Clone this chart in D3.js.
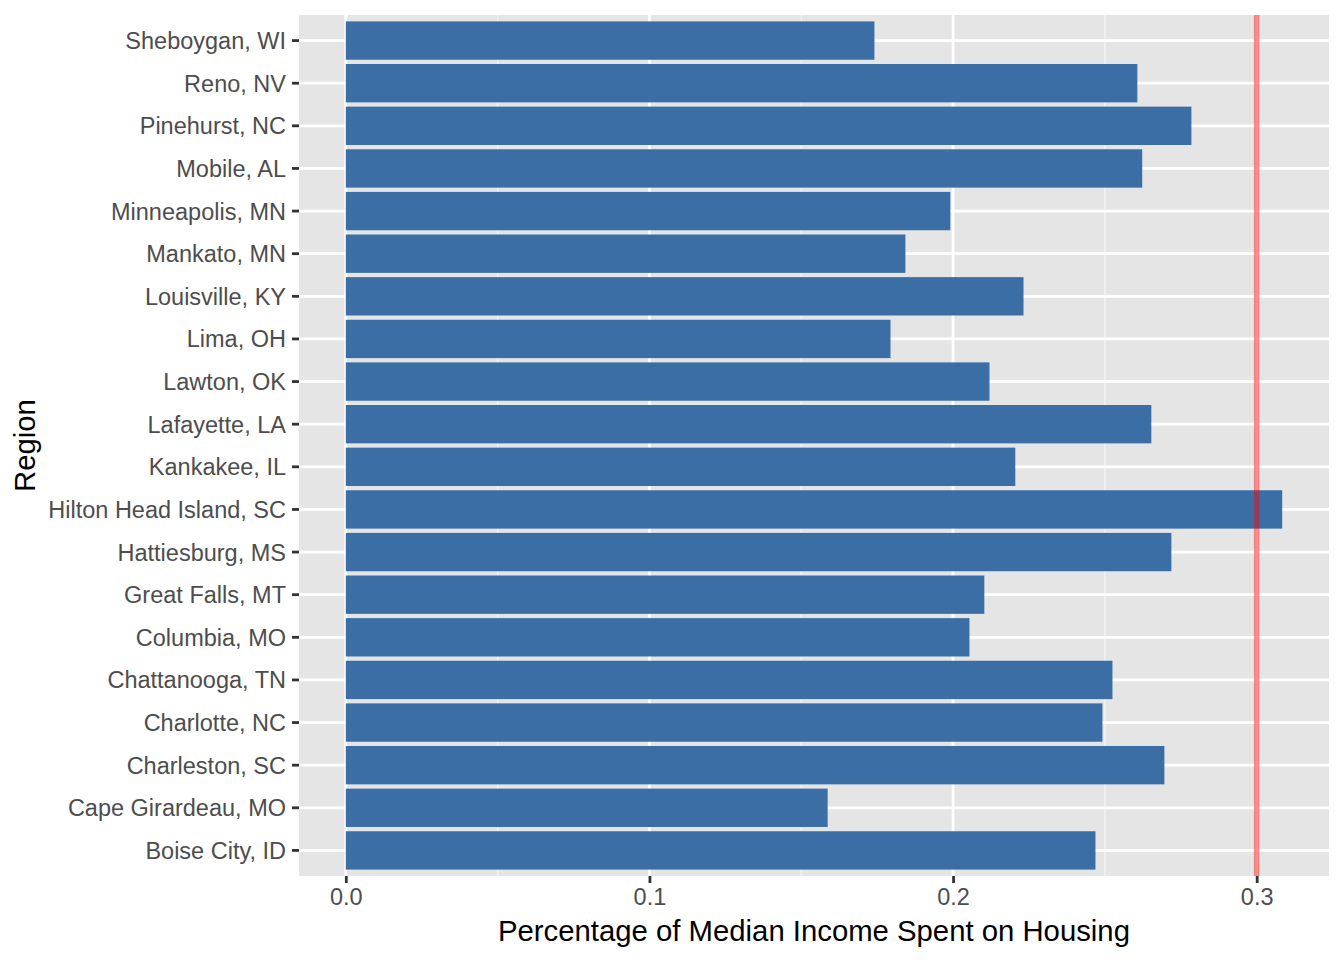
<!DOCTYPE html>
<html>
<head>
<meta charset="utf-8">
<script src="https://cdn.jsdelivr.net/npm/d3@7"></script>
<style>
  body { margin: 0; background: #fff; }
  text { font-family: "Liberation Sans", Arial, sans-serif; }
</style>
</head>
<body>
<svg id="chart"></svg>
<script>
// regions, bottom to top as drawn
const regions = ["Boise City, ID", "Cape Girardeau, MO", "Charleston, SC", "Charlotte, NC",
    "Chattanooga, TN", "Columbia, MO", "Great Falls, MT", "Hattiesburg, MS",
    "Hilton Head Island, SC", "Kankakee, IL", "Lafayette, LA", "Lawton, OK",
    "Lima, OH", "Louisville, KY", "Mankato, MN", "Minneapolis, MN",
    "Mobile, AL", "Pinehurst, NC", "Reno, NV", "Sheboygan, WI"];
const shares = [0.2469, 0.1587, 0.2696, 0.2492,
    0.2525, 0.2054, 0.2103, 0.2719,
    0.3084, 0.2205, 0.2653, 0.2120,
    0.1794, 0.2232, 0.1843, 0.1991,
    0.2623, 0.2785, 0.2607, 0.1741];
const threshold = 0.3;
const xTicks = [0, 0.1, 0.2, 0.3];
const xMinor = [0.05, 0.15, 0.25];

const W = 1344, H = 960;
const margin = { top: 15, right: 15, bottom: 84, left: 299 };
const width = W - margin.left - margin.right;
const height = H - margin.top - margin.bottom;

const svg = d3.select("#chart").attr("width", W).attr("height", H);
const g = svg.append("g")
    .attr("transform", "translate(" + margin.left + "," + margin.top + ")");

// continuous x with ggplot-like 5% expansion
let xMax = Math.max(d3.max(shares), threshold);
let pad = xMax * 0.05;
const x = d3.scaleLinear().domain([0 - pad, xMax + pad]).range([0, width]);

// discrete y: 0.6 expansion each side, bars 0.9 wide
const n = regions.length;
const unit = height / (n - 1 + 1.2);
const yPos = d => height - (0.6 + regions.indexOf(d)) * unit;

g.append("rect").attr("width", width).attr("height", height).attr("fill", "#e5e5e5");

// minor grid
g.selectAll(".minor").data(xMinor).enter().append("line")
    .attr("x1", d => x(d)).attr("x2", d => x(d))
    .attr("y1", 0).attr("y2", height)
    .attr("stroke", "#f2f2f2").attr("stroke-width", 1.4);

// major grid
g.selectAll(".vmajor").data(xTicks).enter().append("line")
    .attr("x1", d => x(d)).attr("x2", d => x(d))
    .attr("y1", 0).attr("y2", height)
    .attr("stroke", "#fff").attr("stroke-width", 2.8);
g.selectAll(".hmajor").data(regions).enter().append("line")
    .attr("x1", 0).attr("x2", width)
    .attr("y1", d => yPos(d)).attr("y2", d => yPos(d))
    .attr("stroke", "#fff").attr("stroke-width", 2.8);

// bars
g.selectAll(".bar").data(regions).enter().append("rect")
    .attr("x", x(0))
    .attr("y", d => yPos(d) - 0.45 * unit)
    .attr("height", 0.9 * unit)
    .attr("width", (d, i) => x(shares[i]) - x(0))
    .attr("fill", "#3a6ea5");

// threshold line
g.append("line")
    .attr("x1", x(threshold)).attr("x2", x(threshold))
    .attr("y1", 0).attr("y2", height)
    .attr("stroke", "red").attr("stroke-opacity", 0.45).attr("stroke-width", 5.5);

// x axis
const xAxis = g.append("g")
    .attr("transform", "translate(0," + height + ")")
    .call(d3.axisBottom(x).tickValues(xTicks).tickFormat(d3.format(".1f")).tickSizeOuter(0).tickSize(7).tickPadding(5));
xAxis.select(".domain").remove();
xAxis.selectAll(".tick line").attr("stroke", "#333").attr("stroke-width", 2.8);
xAxis.selectAll(".tick text").attr("fill", "#4d4d4d").style("font-size", "23.5px");

// y axis
const yAxisG = g.append("g");
regions.forEach(r => {
    yAxisG.append("line")
        .attr("x1", -7).attr("x2", 0)
        .attr("y1", yPos(r)).attr("y2", yPos(r))
        .attr("stroke", "#333").attr("stroke-width", 2.8);
    yAxisG.append("text")
        .attr("x", -13).attr("y", yPos(r)).attr("dy", "0.36em")
        .attr("text-anchor", "end")
        .attr("fill", "#4d4d4d").style("font-size", "23.5px")
        .text(r);
});

// axis titles
svg.append("text")
    .attr("x", margin.left + width / 2).attr("y", 941)
    .attr("text-anchor", "middle")
    .style("font-size", "29.3px").attr("fill", "#000")
    .text("Percentage of Median Income Spent on Housing");

svg.append("text")
    .attr("transform", "translate(35," + (margin.top + height / 2) + ") rotate(-90)")
    .attr("text-anchor", "middle")
    .style("font-size", "29.3px").attr("fill", "#000")
    .text("Region");
</script>
</body>
</html>
